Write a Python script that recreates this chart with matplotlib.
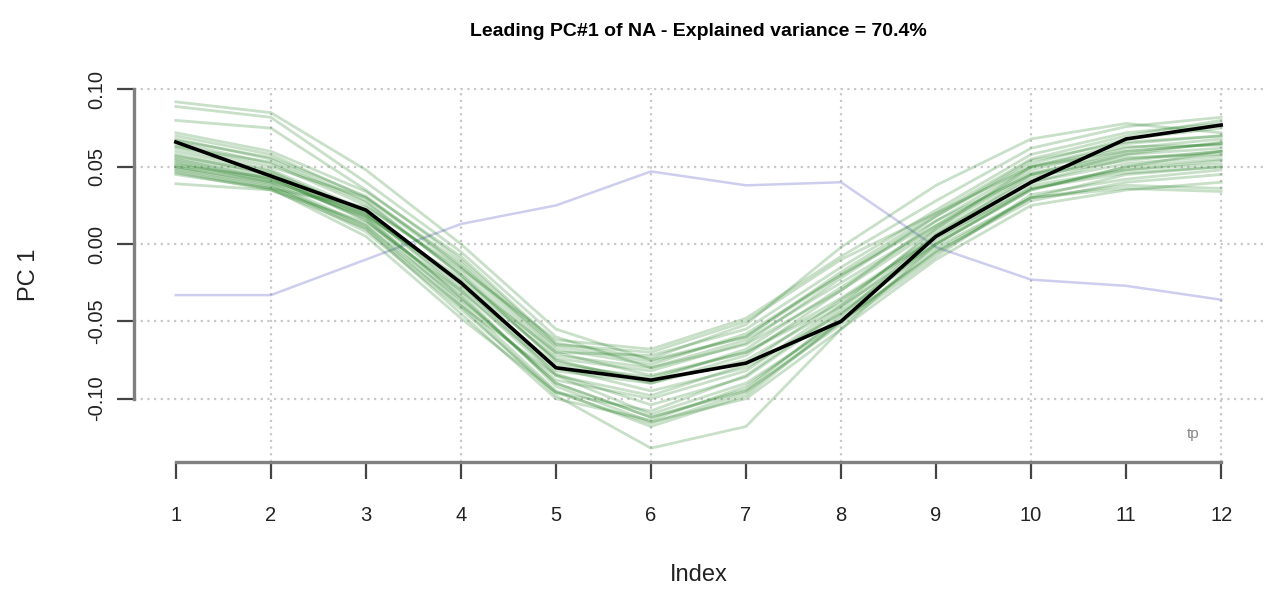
import matplotlib
matplotlib.use("Agg")
import matplotlib.pyplot as plt
import numpy as np

plt.rcParams['font.family'] = ['Liberation Sans', 'DejaVu Sans']

months = list(range(1, 13))

# leading PC from each ensemble member
members = [
    [0.092, 0.085, 0.048, 0.000, -0.055, -0.075, -0.060, -0.020, 0.015, 0.045, 0.060, 0.065],
    [0.089, 0.082, 0.040, -0.005, -0.060, -0.080, -0.065, -0.030, 0.010, 0.050, 0.065, 0.070],
    [0.080, 0.075, 0.035, -0.010, -0.065, -0.070, -0.050, -0.010, 0.020, 0.055, 0.070, 0.080],
    [0.070, 0.058, 0.030, -0.015, -0.070, -0.085, -0.070, -0.035, 0.005, 0.040, 0.055, 0.060],
    [0.068, 0.055, 0.028, -0.020, -0.075, -0.090, -0.075, -0.040, 0.000, 0.035, 0.050, 0.055],
    [0.066, 0.052, 0.025, -0.018, -0.072, -0.080, -0.062, -0.025, 0.012, 0.048, 0.062, 0.068],
    [0.064, 0.050, 0.030, -0.012, -0.068, -0.078, -0.058, -0.020, 0.018, 0.052, 0.068, 0.075],
    [0.062, 0.048, 0.022, -0.025, -0.080, -0.095, -0.080, -0.045, -0.002, 0.030, 0.045, 0.050],
    [0.060, 0.047, 0.020, -0.030, -0.085, -0.110, -0.090, -0.050, -0.005, 0.028, 0.040, 0.045],
    [0.058, 0.045, 0.018, -0.035, -0.090, -0.112, -0.095, -0.052, -0.008, 0.032, 0.042, 0.048],
    [0.056, 0.044, 0.015, -0.032, -0.092, -0.115, -0.100, -0.055, -0.010, 0.025, 0.035, 0.040],
    [0.055, 0.042, 0.016, -0.038, -0.095, -0.118, -0.098, -0.050, -0.004, 0.030, 0.038, 0.036],
    [0.053, 0.040, 0.012, -0.040, -0.098, -0.132, -0.118, -0.055, 0.000, 0.035, 0.050, 0.060],
    [0.052, 0.041, 0.020, -0.028, -0.078, -0.086, -0.070, -0.038, 0.008, 0.042, 0.058, 0.062],
    [0.050, 0.040, 0.018, -0.022, -0.070, -0.072, -0.055, -0.015, 0.022, 0.058, 0.072, 0.078],
    [0.050, 0.039, 0.010, -0.045, -0.100, -0.114, -0.092, -0.048, 0.002, 0.038, 0.048, 0.052],
    [0.049, 0.038, 0.008, -0.042, -0.096, -0.108, -0.085, -0.042, 0.006, 0.040, 0.052, 0.057],
    [0.048, 0.037, 0.012, -0.036, -0.088, -0.100, -0.082, -0.040, 0.010, 0.045, 0.056, 0.058],
    [0.047, 0.036, 0.005, -0.048, -0.096, -0.116, -0.096, -0.050, -0.006, 0.030, 0.036, 0.034],
    [0.046, 0.035, 0.014, -0.030, -0.082, -0.090, -0.072, -0.030, 0.015, 0.050, 0.060, 0.065],
    [0.045, 0.036, 0.024, -0.016, -0.062, -0.068, -0.048, -0.008, 0.028, 0.062, 0.076, 0.082],
    [0.039, 0.035, 0.010, -0.040, -0.085, -0.098, -0.078, -0.036, 0.004, 0.036, 0.046, 0.050],
    [0.072, 0.060, 0.034, -0.008, -0.064, -0.074, -0.052, -0.002, 0.038, 0.068, 0.078, 0.072],
    [0.063, 0.053, 0.027, -0.020, -0.076, -0.088, -0.068, -0.028, 0.012, 0.046, 0.058, 0.066],
    [0.057, 0.046, 0.021, -0.026, -0.084, -0.104, -0.086, -0.044, 0.000, 0.036, 0.048, 0.054],
    [0.051, 0.043, 0.019, -0.024, -0.074, -0.082, -0.064, -0.022, 0.018, 0.054, 0.066, 0.070],
    [0.067, 0.056, 0.031, -0.014, -0.066, -0.076, -0.060, -0.018, 0.020, 0.050, 0.063, 0.064],
    [0.054, 0.042, 0.017, -0.034, -0.090, -0.112, -0.094, -0.046, 0.006, 0.044, 0.054, 0.060],
]

# observed pattern and the second mode
obs = [0.066, 0.044, 0.022, -0.025, -0.080, -0.088, -0.077, -0.050, 0.005, 0.040, 0.068, 0.077]
other = [-0.033, -0.033, -0.010, 0.013, 0.025, 0.047, 0.038, 0.040, -0.002, -0.023, -0.027, -0.036]

fig = plt.figure(figsize=(12.67, 5.93), dpi=100)
ax = fig.add_axes([0.1058, 0.2209, 0.891, 0.6307])

ymin = min(min(m) for m in members)
ymax = max(max(m) for m in members)
pad = 0.04 * (ymax - ymin)
ax.set_xlim(1 - 0.04 * 11, 12 + 0.04 * 11)
ax.set_ylim(ymin - pad, ymax + pad)

# dotted grid
for gx in [2, 4, 6, 8, 10, 12]:
    ax.axvline(gx, color='#c8c8c8', ls=(0, (1, 2)), lw=1.6, zorder=0)
for gy in [-0.10, -0.05, 0.0, 0.05, 0.10]:
    ax.axhline(gy, color='#c8c8c8', ls=(0, (1, 2)), lw=1.6, zorder=0)

ax.plot(months, other, color='#7070d0', alpha=0.35, lw=1.8, zorder=1)
for m in members:
    ax.plot(months, m, color='#1a7a1a', alpha=0.24, lw=2.0, zorder=2)
ax.plot(months, obs, color='black', lw=2.6, zorder=3)

ax.text(11.7, -0.123, 'tp', color='#888888', fontsize=11, ha='center', va='center')

for s in ['top', 'right']:
    ax.spines[s].set_visible(False)
ax.spines['left'].set_bounds(-0.10, 0.10)
ax.spines['bottom'].set_bounds(1, 12)
for s in ['left', 'bottom']:
    ax.spines[s].set_color('#808080')
    ax.spines[s].set_linewidth(2.4)

ax.set_xticks(months)
ax.set_yticks([-0.10, -0.05, 0.0, 0.05, 0.10])
ax.set_yticklabels(['-0.10', '-0.05', '0.00', '0.05', '0.10'], rotation=90, va='center')
ax.tick_params(axis='both', length=12, width=1.6, color='#444444', labelsize=14.5,
               labelcolor='#222222')
ax.tick_params(axis='x', pad=20)
ax.tick_params(axis='y', pad=8)

ax.set_xlabel('Index', fontsize=17, labelpad=28, color='#222222')
ax.set_ylabel('PC 1', fontsize=17, labelpad=34, color='#222222')
fig.text(0.551, 0.947, 'Leading PC#1 of NA - Explained variance = 70.4%',
         fontsize=14, fontweight='bold', ha='center', va='center')

fig.savefig('out.png', dpi=100)
